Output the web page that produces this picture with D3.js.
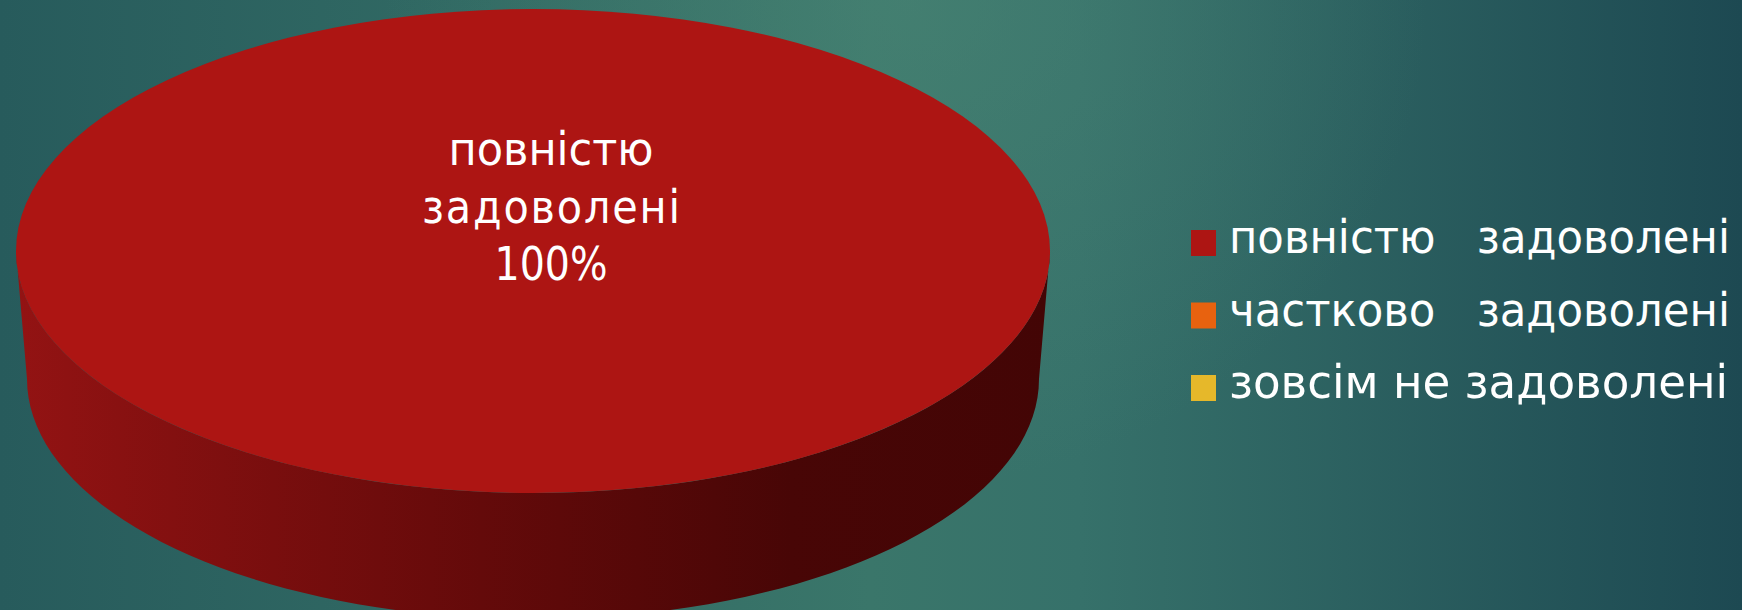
<!DOCTYPE html>
<html>
<head>
<meta charset="utf-8">
<script src="https://cdn.jsdelivr.net/npm/d3@7"></script>
<style>
  html, body { margin: 0; padding: 0; overflow: hidden; }
  svg { display: block; }
</style>
</head>
<body>
<div id="chart"></div>
<script>
// data
const categories = ["повністю   задоволені", "частково   задоволені", "зовсім не задоволені"];
const values = [100, 0, 0];
const labelLines = ["повністю", "задоволені", "100%"];

const colors = ["#ad1513", "#e8620f", "#e6b82a"];

const WIDTH = 1742;
const HEIGHT = 610;
const FONT = "'DejaVu Sans Condensed', 'DejaVu Sans', sans-serif";

// pie geometry
const cx = 533, cy = 251;
const rx = 517, ry = 242;
const depth = 128;
const rxBottom = 506, ryBottom = 240;

const svg = d3.select("#chart")
    .append("svg")
    .attr("width", WIDTH)
    .attr("height", HEIGHT);

const defs = svg.append("defs");

// background: horizontal teal gradient plus a soft light spot at the top
const bg = defs.append("linearGradient")
    .attr("id", "bg")
    .attr("x1", 0).attr("x2", 1).attr("y1", 0).attr("y2", 0);
bg.append("stop").attr("offset", "0%").attr("stop-color", "#275b5c");
bg.append("stop").attr("offset", "50%").attr("stop-color", "#3a766a");
bg.append("stop").attr("offset", "62%").attr("stop-color", "#36716a");
bg.append("stop").attr("offset", "100%").attr("stop-color", "#1d4952");

const glow = defs.append("radialGradient")
    .attr("id", "glow")
    .attr("cx", 0.52).attr("cy", 0.0).attr("r", 0.5)
    .attr("gradientTransform", "translate(0.52,0) scale(0.6,1.6) translate(-0.52,0)");
glow.append("stop").attr("offset", "0%").attr("stop-color", "#4f8a78").attr("stop-opacity", 0.45);
glow.append("stop").attr("offset", "100%").attr("stop-color", "#4f8a78").attr("stop-opacity", 0);

svg.append("rect")
    .attr("width", WIDTH)
    .attr("height", HEIGHT)
    .attr("fill", "url(#bg)");

svg.append("rect")
    .attr("width", WIDTH)
    .attr("height", HEIGHT)
    .attr("fill", "url(#glow)");

// side gradient
const side = defs.append("linearGradient")
    .attr("id", "side")
    .attr("x1", 0).attr("x2", 1).attr("y1", 0).attr("y2", 0);
side.append("stop").attr("offset", "0%").attr("stop-color", "#931313");
side.append("stop").attr("offset", "45%").attr("stop-color", "#640a0a");
side.append("stop").attr("offset", "75%").attr("stop-color", "#480606");
side.append("stop").attr("offset", "100%").attr("stop-color", "#430505");

const pie = d3.pie().sort(null).value(d => d);
const arcs = pie(values);

const topPoint = a => [cx + rx * Math.sin(a), cy - ry * Math.cos(a)];
const botPoint = a => [cx + rxBottom * Math.sin(a), cy + depth - ryBottom * Math.cos(a)];

// side walls: only the front half (PI/2 .. 3PI/2) is visible
const sidePath = d => {
    const a0 = Math.max(d.startAngle, Math.PI / 2);
    const a1 = Math.min(d.endAngle, 3 * Math.PI / 2);
    if (a1 <= a0) return null;
    const n = 80;
    const top = d3.range(n + 1).map(i => topPoint(a0 + (a1 - a0) * i / n));
    const bot = d3.range(n + 1).map(i => botPoint(a1 - (a1 - a0) * i / n));
    return d3.line()(top.concat(bot)) + "Z";
};

svg.append("g")
    .selectAll("path")
    .data(arcs.filter(d => d.endAngle > d.startAngle))
    .enter()
    .append("path")
    .attr("d", sidePath)
    .attr("fill", "url(#side)");

// top face
const arc = d3.arc().innerRadius(0).outerRadius(rx);

svg.append("g")
    .attr("transform", `translate(${cx},${cy}) scale(1,${ry / rx})`)
    .selectAll("path")
    .data(arcs.filter(d => d.endAngle > d.startAngle))
    .enter()
    .append("path")
    .attr("d", arc)
    .attr("fill", d => colors[d.index]);

// data label
const labelWidths = [205, 258, 113];
svg.append("g")
    .selectAll("text")
    .data(labelLines)
    .enter()
    .append("text")
    .attr("x", 551)
    .attr("y", (d, i) => 165 + i * 57.5)
    .attr("text-anchor", "middle")
    .attr("fill", "#ffffff")
    .style("font-family", FONT)
    .style("font-size", "46px")
    .attr("textLength", (d, i) => labelWidths[i])
    .attr("lengthAdjust", (d, i) => i === 1 ? "spacing" : "spacingAndGlyphs")
    .text(d => d);

// legend
const legend = svg.append("g")
    .attr("transform", "translate(1191,230)");

const rows = legend.selectAll("g")
    .data(categories)
    .enter()
    .append("g")
    .attr("transform", (d, i) => `translate(0,${i * 72.5})`);

rows.append("rect")
    .attr("width", 25)
    .attr("height", 26)
    .attr("fill", (d, i) => colors[i]);

rows.append("text")
    .attr("x", 38)
    .attr("y", 23)
    .attr("fill", "#ffffff")
    .attr("xml:space", "preserve")
    .style("white-space", "pre")
    .style("font-family", FONT)
    .style("font-size", "46px")
    .attr("textLength", (d, i) => i === 2 ? 499 : 501)
    .attr("lengthAdjust", "spacingAndGlyphs")
    .text(d => d);
</script>
</body>
</html>
